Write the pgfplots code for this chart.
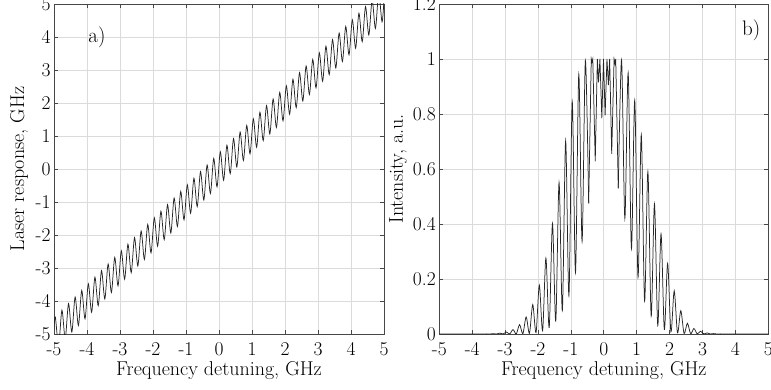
\documentclass[border=0pt]{standalone}
\usepackage{pgfplots}
\pgfplotsset{compat=1.18}
\usepackage{pgfplotstable}

\pgfplotstableread{
x y
-5.00 -4.852
-4.96 -4.48
-4.86 -5.34
-4.76 -4.28
-4.66 -5.14
-4.56 -4.08
-4.46 -4.94
-4.36 -3.88
-4.26 -4.74
-4.16 -3.68
-4.06 -4.54
-3.96 -3.48
-3.86 -4.34
-3.76 -3.28
-3.66 -4.14
-3.56 -3.08
-3.46 -3.94
-3.36 -2.88
-3.26 -3.74
-3.16 -2.68
-3.06 -3.54
-2.96 -2.48
-2.86 -3.34
-2.76 -2.28
-2.66 -3.14
-2.56 -2.08
-2.46 -2.94
-2.36 -1.88
-2.26 -2.74
-2.16 -1.68
-2.06 -2.54
-1.96 -1.48
-1.86 -2.34
-1.76 -1.28
-1.66 -2.14
-1.56 -1.08
-1.46 -1.94
-1.36 -0.88
-1.26 -1.74
-1.16 -0.68
-1.06 -1.54
-0.96 -0.48
-0.86 -1.34
-0.76 -0.28
-0.66 -1.14
-0.56 -0.08
-0.46 -0.94
-0.36 0.12
-0.26 -0.74
-0.16 0.32
-0.06 -0.54
0.04 0.52
0.14 -0.34
0.24 0.72
0.34 -0.14
0.44 0.92
0.54 0.06
0.64 1.12
0.74 0.26
0.84 1.32
0.94 0.46
1.04 1.52
1.14 0.66
1.24 1.72
1.34 0.86
1.44 1.92
1.54 1.06
1.64 2.12
1.74 1.26
1.84 2.32
1.94 1.46
2.04 2.52
2.14 1.66
2.24 2.72
2.34 1.86
2.44 2.92
2.54 2.06
2.64 3.12
2.74 2.26
2.84 3.32
2.94 2.46
3.04 3.52
3.14 2.66
3.24 3.72
3.34 2.86
3.44 3.92
3.54 3.06
3.64 4.12
3.74 3.26
3.84 4.32
3.94 3.46
4.04 4.52
4.14 3.66
4.24 4.72
4.34 3.86
4.44 4.92
4.54 4.06
4.64 5.12
4.74 4.26
4.84 5.32
4.94 4.46
5.00 5.148
}\responsetable

\pgfplotstableread{
x y
-5.00 0
-3.66 0
-3.56 0.0005
-3.46 0
-3.36 0.0013
-3.26 0
-3.16 0.0032
-3.06 0
-2.96 0.0073
-2.86 0.0001
-2.76 0.016
-2.66 0.0004
-2.56 0.034
-2.46 0.001
-2.36 0.062
-2.26 0.0025
-2.16 0.107
-2.06 0.005
-1.96 0.178
-1.86 0.012
-1.76 0.276
-1.66 0.024
-1.56 0.402
-1.46 0.047
-1.36 0.551
-1.26 0.085
-1.16 0.703
-1.06 0.139
-0.96 0.845
-0.86 0.224
-0.76 0.945
-0.66 0.337
-0.56 0.995
-0.46 0.475
}\intleft

\pgfplotstableread{
x y
-0.46 0.475
-0.381 1.0
-0.36 0.989
-0.335 1.0
-0.26 0.628
-0.196 1.0
-0.16 0.915
-0.118 1.0
-0.06 0.785
-0.009 1.0
0.04 0.795
0.096 1.0
0.14 0.905
0.178 1.0
0.24 0.655
0.3125 1.0
0.34 0.984
0.3625 1.0
0.44 0.53
}\intcenter

\pgfplotstableread{
x y
0.44 0.53
0.54 0.997
0.64 0.42
0.74 0.95
0.84 0.31
0.94 0.85
1.04 0.206
1.14 0.724
1.24 0.12
1.34 0.591
1.44 0.065
1.54 0.473
1.64 0.031
1.74 0.364
1.84 0.016
1.94 0.257
2.04 0.008
2.14 0.157
2.24 0.004
2.34 0.085
2.44 0.002
2.54 0.039
2.64 0.001
2.74 0.02
2.84 0.0005
2.94 0.01
3.04 0
3.14 0.004
3.24 0
3.34 0.0015
3.44 0
3.54 0.0005
3.64 0
5.00 0
}\intright

\pgfplotsset{
  myax/.style={
    scale only axis, anchor=south west, height=330pt,
    xmin=-5, xmax=5, xtick={-5,-4,...,5},
    grid=major, grid style={draw=black!14, line width=0.8pt},
    axis line style={draw=black!72, line width=0.9pt},
    tick style={draw=black!72, line width=0.8pt},
    tick align=inside, major tick length=4pt,
    /pgf/number format/assume math mode=true,
    tick label style={font=\fontsize{19.5}{19.5}\selectfont},
    xticklabel style={yshift=-5pt},
    label style={font=\fontsize{20}{20}\selectfont},
    xlabel={Frequency detuning, GHz},
    xlabel style={anchor=center, at={(axis description cs:0.5,-0.11)}},
    every axis plot/.append style={line width=0.75pt, draw=black!85},
  }
}

\begin{document}
\begin{tikzpicture}
\begin{axis}[myax, at={(54pt,55pt)}, width=330pt,
  ymin=-5, ymax=5, ytick={-5,-4,...,5},
  ylabel={Laser response, GHz},
  ylabel style={anchor=center, at={(axis description cs:-0.106,0.5)}}]
\addplot[smooth] table[x=x,y=y] {\responsetable};
\node[font=\fontsize{21}{21}\selectfont] at (axis cs:-3.7,4.0) {a)};
\end{axis}
\begin{axis}[myax, at={(439.3pt,55pt)}, width=329pt,
  ymin=0, ymax=1.2, ytick={0,0.2,...,1.2},
  ylabel={Intensity, a.u.},
  ylabel style={anchor=center, at={(axis description cs:-0.1255,0.5)}}]
\addplot[smooth] table[x=x,y=y] {\intleft};
\addplot[sharp plot] table[x=x,y=y] {\intcenter};
\addplot[smooth] table[x=x,y=y] {\intright};
\node[font=\fontsize{21}{21}\selectfont] at (axis cs:4.48,1.103) {b)};
\end{axis}
\pgfresetboundingbox
\useasboundingbox (0pt,0pt) rectangle (771pt,389pt);
\end{tikzpicture}
\end{document}
